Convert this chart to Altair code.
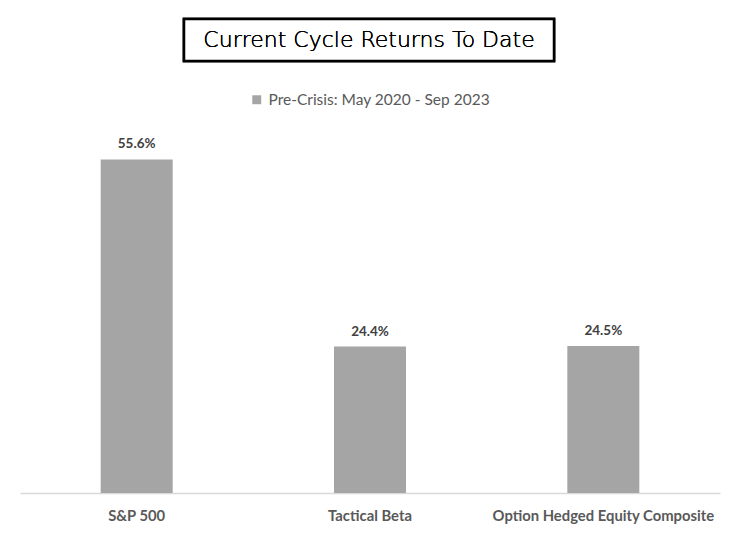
import altair as alt
import pandas as pd

categories = ["S&P 500", "Tactical Beta", "Option Hedged Equity Composite"]
values = [55.6, 24.4, 24.5]
series_name = "Pre-Crisis: May 2020 - Sep 2023"
title_text = "Current Cycle Returns To Date"

df = pd.DataFrame({
    "category": categories,
    "value": values,
    "series": [series_name] * len(categories),
    "label": [f"{v:.1f}%" for v in values],
})

W, H = 700, 360
GREY = "#a5a5a5"

x_enc = alt.X("category:N", sort=categories,
              scale=alt.Scale(paddingInner=0.69, paddingOuter=0.345),
              axis=alt.Axis(title=None, labelAngle=0, ticks=False, domainColor="#d9d9d9",
                            domainWidth=1.5, labelColor="#595959", labelFontWeight="bold",
                            labelFont="Lato", labelFontSize=14.8, labelPadding=15,
                            labelLimit=400))
y_enc = alt.Y("value:Q", scale=alt.Scale(domain=[0, 60], nice=False),
              axis=None)

bars = alt.Chart(df).mark_bar(size=72).encode(
    x=x_enc, y=y_enc,
    color=alt.Color("series:N", scale=alt.Scale(range=[GREY]),
                    legend=alt.Legend(title=None, orient="none", legendX=229, legendY=-41,
                                      symbolType="square", symbolSize=80,
                                      labelFont="Lato", labelFontSize=15.5, labelLimit=400,
                                      labelColor="#595959", symbolStrokeWidth=0)),
)

labels = alt.Chart(df).mark_text(dy=-15, font="Lato", fontSize=13.5, fontWeight="bold",
                                 color="#404040").encode(
    x=alt.X("category:N", sort=categories), y="value:Q", text="label:N")

box = alt.Chart(df).mark_rect(fill="white", stroke="black", strokeWidth=2.5).encode(
    x=alt.value(164), x2=alt.value(534), y=alt.value(-114), y2=alt.value(-72))

title = alt.Chart(df).mark_text(text=title_text, font="DejaVu Sans", fontSize=22,
                                fontWeight=200, color="black",
                                baseline="middle", align="center").encode(
    x=alt.value(349), y=alt.value(-93))

chart = alt.layer(bars, labels, box, title).properties(
    width=W, height=H,
    autosize=alt.AutoSizeParams(type="none"),
    padding={"left": 12, "top": 125, "right": 7, "bottom": 40},
).configure_view(stroke=None)

chart.save("out.html", embed_options={"renderer": "svg", "actions": False})
